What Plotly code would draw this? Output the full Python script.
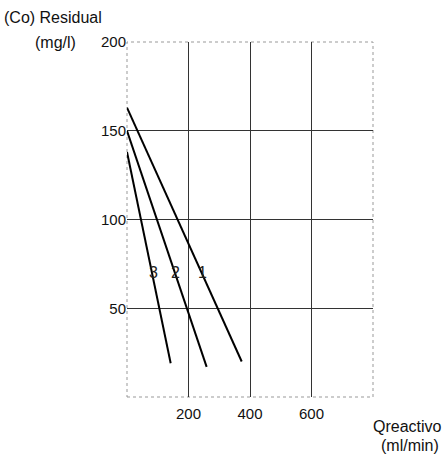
import plotly.graph_objects as go

# Data
series_names = ["1", "2", "3"]
series_x = [[0, 373], [0, 259], [0, 142]]
series_y = [[163, 20], [150, 17], [138, 19]]
label_x = [247, 159, 85]
label_y = [70, 70, 70]

x_ticks = [200, 400, 600]
y_ticks = [50, 100, 150, 200]

FONT = "Liberation Sans, Arial, sans-serif"

fig = go.Figure()
for name, xs, ys in zip(series_names, series_x, series_y):
    fig.add_trace(go.Scatter(x=xs, y=ys, mode="lines", name=name,
                             line=dict(color="black", width=2), showlegend=False))

for name, lx, ly in zip(series_names, label_x, label_y):
    fig.add_annotation(x=lx, y=ly, text=name, showarrow=False,
                       font=dict(family=FONT, size=16, color="#222"))

fig.update_xaxes(range=[0, 800], tickvals=x_ticks, ticktext=[str(v) for v in x_ticks],
                 showgrid=True, gridcolor="#333", gridwidth=1, zeroline=False,
                 showline=False, ticks="", ticklabelstandoff=6,
                 tickfont=dict(family=FONT, size=15, color="#111"),
                 fixedrange=True)
fig.update_yaxes(range=[0, 200], tickvals=y_ticks, ticktext=[str(v) for v in y_ticks],
                 showgrid=True, gridcolor="#333", gridwidth=1, zeroline=False,
                 showline=False, ticks="", tickfont=dict(family=FONT, size=15, color="#111"),
                 fixedrange=True)

# dotted frame
fig.add_shape(type="rect", xref="paper", yref="paper", x0=0, y0=0, x1=1, y1=1,
              line=dict(color="#999", width=1, dash="dot"), layer="below")

def title(text, x, y):
    fig.add_annotation(xref="paper", yref="paper", x=x, y=y, text=text,
                       xanchor="center", yanchor="middle", showarrow=False,
                       font=dict(family=FONT, size=16, color="#111"))

title("(Co) Residual", -0.299, 1.070)
title("(mg/l)", -0.289, 1.0)
title("Qreactivo", 1.140, -0.082)
title("(ml/min)", 1.150, -0.138)

fig.update_layout(width=445, height=458, margin=dict(l=127, r=72, t=42, b=61),
                  plot_bgcolor="white", paper_bgcolor="white")

fig.write_html("out.html")
